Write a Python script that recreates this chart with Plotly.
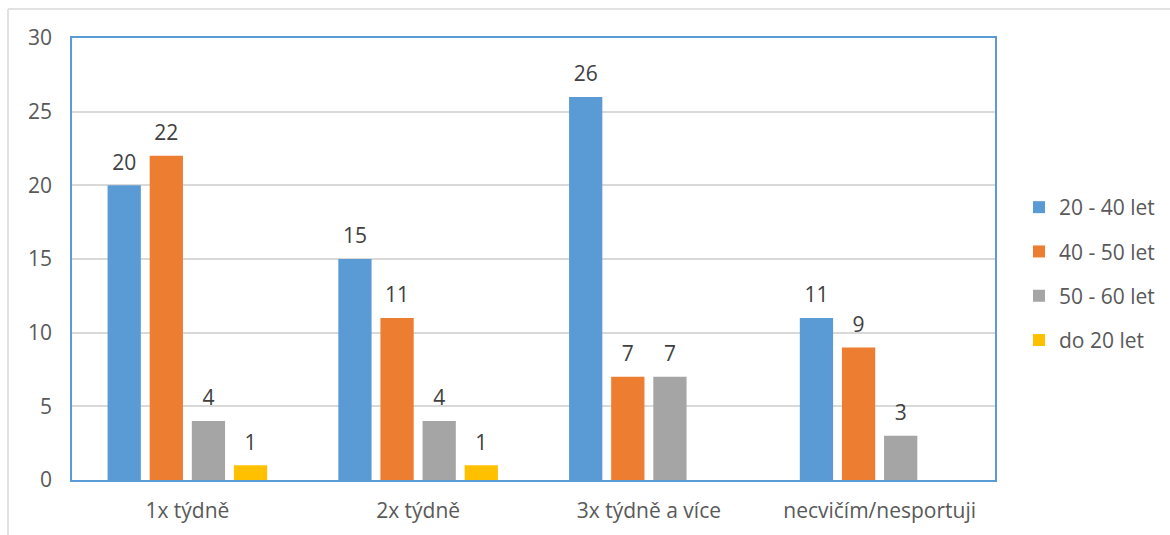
import plotly.graph_objects as go

categories = ["1x týdně", "2x týdně", "3x týdně a více", "necvičím/nesportuji"]
series_names = ["20 - 40 let", "40 - 50 let", "50 - 60 let", "do 20 let"]
vals_20_40 = [20, 15, 26, 11]
vals_40_50 = [22, 11, 7, 9]
vals_50_60 = [4, 4, 7, 3]
vals_do_20 = [1, 1, None, None]
colors = ["#5B9BD5", "#ED7D31", "#A5A5A5", "#FFC000"]
y_ticks = [0, 5, 10, 15, 20, 25, 30]

W, H = 1170, 535
ML, MR, MT, MB = 72, 175, 38, 55
PW, PH = W - ML - MR, H - MT - MB

FONT = "'Open Sans', Calibri, sans-serif"
TXT = "#595959"
LBL = "#404040"
FS = 21
GAP = 0.27

all_series = [vals_20_40, vals_40_50, vals_50_60, vals_do_20]

fig = go.Figure()
for name, vals, col in zip(series_names, all_series, colors):
    fig.add_trace(go.Bar(
        name=name, x=categories, y=vals, marker=dict(color=col, line=dict(width=0)),
        legendgroup=name, offsetgroup=name,
    ))

# value labels: grouped scatter text aligned to the bar slots
for name, vals in zip(series_names, all_series):
    fig.add_trace(go.Scatter(
        x=categories, y=vals, mode="markers+text",
        text=["" if v is None else str(v) for v in vals],
        textposition="top center",
        textfont=dict(family=FONT, size=FS, color=LBL),
        marker=dict(size=15, opacity=0),
        offsetgroup=name, showlegend=False, hoverinfo="skip", cliponaxis=False,
    ))

def px_x(p):
    return (p - ML) / PW

def px_y(p):
    return (H - MB - p) / PH

fig.update_layout(
    width=W, height=H,
    margin=dict(l=ML, r=MR, t=MT, b=MB, pad=0, autoexpand=False),
    paper_bgcolor="white", plot_bgcolor="white",
    barmode="group", bargap=GAP, bargroupgap=0.21,
    scattermode="group", scattergap=GAP,
    font=dict(family=FONT, size=FS, color=TXT),
    showlegend=True,
    legend=dict(
        x=px_x(1019), y=px_y(187), xanchor="left", yanchor="top",
        font=dict(family=FONT, size=FS, color=TXT),
        tracegroupgap=14, traceorder="grouped",
        bgcolor="rgba(0,0,0,0)",
    ),
    shapes=[
        dict(type="line", xref="paper", yref="paper",
             x0=px_x(8), x1=px_x(8), y0=px_y(9), y1=px_y(560),
             line=dict(color="#D9D9D9", width=1.5)),
        dict(type="line", xref="paper", yref="paper",
             x0=px_x(8), x1=px_x(1200), y0=px_y(9), y1=px_y(9),
             line=dict(color="#D9D9D9", width=1.5)),
    ],
)

fig.update_xaxes(
    showline=True, mirror=True, linecolor="#5B9BD5", linewidth=1.5,
    ticks="", tickfont=dict(family=FONT, size=FS, color=TXT),
    ticklabelstandoff=11,
)
fig.update_yaxes(
    range=[0, 30], tickvals=y_ticks,
    showline=True, mirror=True, linecolor="#5B9BD5", linewidth=1.5,
    showgrid=True, gridcolor="#D9D9D9", gridwidth=1.5,
    zeroline=False, ticks="", tickfont=dict(family=FONT, size=FS, color=TXT),
    ticklabelstandoff=14,
)

fig.write_html("out.html")
